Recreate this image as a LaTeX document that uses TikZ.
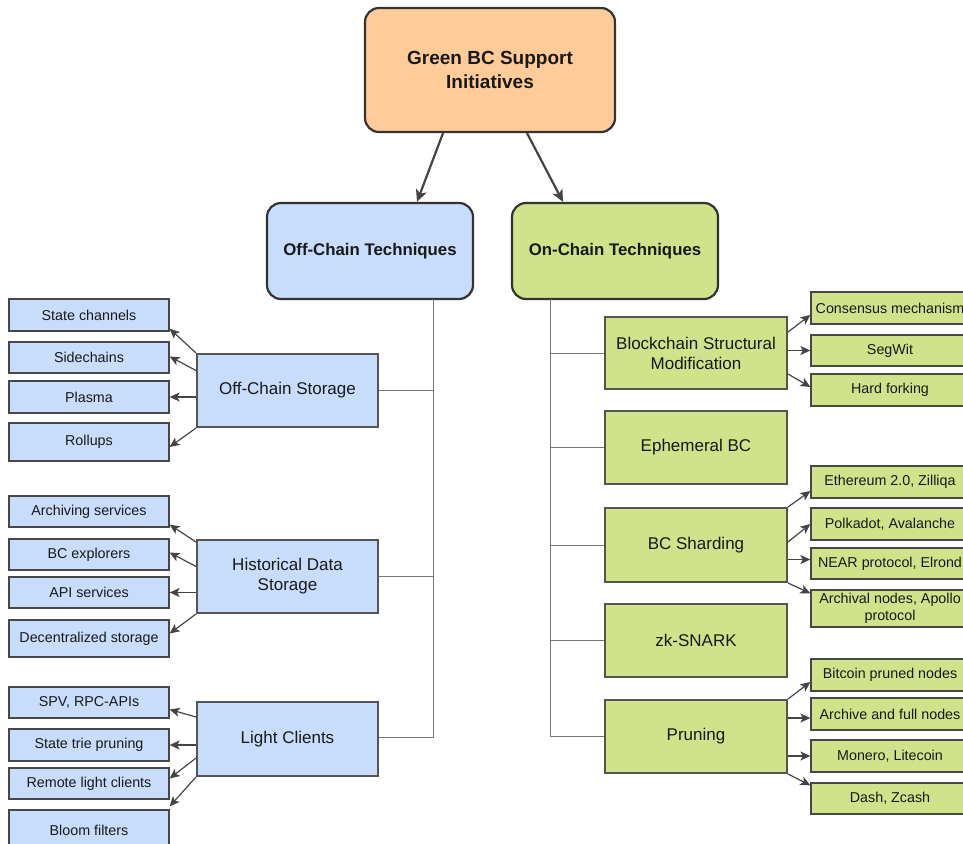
\documentclass[tikz,border=0pt]{standalone}
\usepackage{fontspec}
\setmainfont{Liberation Sans}
\usetikzlibrary{arrows.meta}
\definecolor{rootfill}{HTML}{FFCC99}
\definecolor{bluefill}{HTML}{C7DDFB}
\definecolor{greenfill}{HTML}{D0E28A}
\definecolor{edgegray}{HTML}{333333}
\definecolor{boxgray}{HTML}{555555}
\definecolor{treegray}{HTML}{777777}
\definecolor{arrgray}{HTML}{444444}
\begin{document}
\begin{tikzpicture}[x=1pt,y=-1pt,
  topbox/.style={draw=edgegray, line width=2.2pt, rounded corners=14pt, inner sep=0pt, align=center, text=black!90},
  midbox/.style={draw=boxgray, line width=2pt, inner sep=0pt, align=center, minimum width=182pt, text=black!90, font=\fontsize{17}{20}\selectfont},
  leafbox/.style={draw=edgegray!90, line width=1.3pt, inner sep=0pt, align=center, text=black!90, font=\fontsize{14.3}{17.5}\selectfont},
  lleaf/.style={leafbox, fill=bluefill, minimum width=160pt},
  rleaf/.style={leafbox, fill=greenfill, minimum width=158pt},
  treeline/.style={draw=treegray, line width=1pt},
  arr/.style={draw=arrgray, line width=1.2pt, -{Stealth[length=10pt,width=9pt,inset=2.5pt]}},
  bigarr/.style={draw=arrgray, line width=2.2pt, -{Stealth[length=12pt,width=11pt,inset=3pt]}}
]
\useasboundingbox (0,0) rectangle (963,843);

% top level
\node[topbox, fill=rootfill, minimum width=250pt, minimum height=124pt, font=\bfseries\fontsize{19}{24}\selectfont] (root) at (490,70) {Green BC Support\\Initiatives};
\node[topbox, fill=bluefill, minimum width=206pt, minimum height=96pt, font=\bfseries\fontsize{16.8}{20}\selectfont] (off) at (370,251) {Off-Chain Techniques};
\node[topbox, fill=greenfill, minimum width=206pt, minimum height=96pt, font=\bfseries\fontsize{16.8}{20}\selectfont] (on) at (615,251) {On-Chain Techniques};

\draw[bigarr] ([xshift=-47pt]root.south) -- ([xshift=47pt]off.north);
\draw[bigarr] ([xshift=37pt]root.south) -- ([xshift=-52pt]on.north);

% left middle boxes
\node[midbox, fill=bluefill, minimum width=181pt, minimum height=73pt] (osto) at (287.5,390.5) {Off-Chain Storage};
\node[midbox, fill=bluefill, minimum width=181pt, minimum height=73pt] (hist) at (287.5,576.5) {Historical Data\\Storage};
\node[midbox, fill=bluefill, minimum width=181pt, minimum height=74pt] (lc) at (287.5,739) {Light Clients};

% left tree
\coordinate (lt) at (433,299);
\draw[treeline] (lt) |- ([yshift=2pt]lc.east);
\draw[treeline] (osto.east) -- (osto.east -| lt);
\draw[treeline] (hist.east) -- (hist.east -| lt);

% left leaves
\node[lleaf, minimum height=32pt] (sc1) at (89,315) {State channels};
\node[lleaf, minimum height=31pt] (sc2) at (89,357.5) {Sidechains};
\node[lleaf, minimum height=32pt] (pl) at (89,397) {Plasma};
\node[lleaf, minimum height=38pt] (ro) at (89,442) {Rollups};
\node[lleaf, minimum height=31pt] (ar) at (89,511.5) {Archiving services};
\node[lleaf, minimum height=31pt] (bce) at (89,554.5) {BC explorers};
\node[lleaf, minimum height=31pt] (api) at (89,592.5) {API services};
\node[lleaf, minimum height=37pt] (dec) at (89,638.5) {Decentralized storage};
\node[lleaf, minimum height=31pt] (spv) at (89,702.5) {SPV, RPC-APIs};
\node[lleaf, minimum height=32pt] (st) at (89,745) {State trie pruning};
\node[lleaf, minimum height=31pt] (rl) at (89,783.5) {Remote light clients};
\node[lleaf, minimum height=40pt] (bl) at (89,830) {Bloom filters};

% left arrows
\draw[arr] (osto.north west) -- ([yshift=3pt]sc1.south east);
\draw[arr] ([yshift=20pt]osto.west) -- ([yshift=1pt]sc2.east);
\draw[arr] (pl.east -| osto.west) -- (pl.east);
\draw[arr] (osto.south west) -- ([yshift=-5pt]ro.east);

\draw[arr] ([yshift=-3pt]hist.north west) -- ([yshift=3pt]ar.south east);
\draw[arr] ([yshift=10pt]hist.west) -- ([yshift=2pt]bce.east);
\draw[arr] (api.east -| hist.west) -- (api.east);
\draw[arr] (hist.south west) -- ([yshift=5pt]dec.east);

\draw[arr] ([yshift=22pt]lc.west) -- ([yshift=-7pt]spv.east);
\draw[arr] (st.east -| lc.west) -- (st.east);
\draw[arr] ([yshift=-19pt]lc.west) -- ([yshift=5pt]rl.east);
\draw[arr] (lc.south west) -- ([yshift=3pt]bl.north east);

% right middle boxes
\node[midbox, fill=greenfill, minimum height=72pt] (bsm) at (696,353) {Blockchain Structural\\Modification};
\node[midbox, fill=greenfill, minimum height=73pt] (eph) at (696,447.5) {Ephemeral BC};
\node[midbox, fill=greenfill, minimum height=74pt] (sh) at (696,545) {BC Sharding};
\node[midbox, fill=greenfill, minimum height=73pt] (zk) at (696,640.5) {zk-SNARK};
\node[midbox, fill=greenfill, minimum height=73pt] (pr) at (696,736.5) {Pruning};

% right tree
\coordinate (rt) at (550,299);
\draw[treeline] (rt) |- (pr.west);
\draw[treeline] (bsm.west -| rt) -- (bsm.west);
\draw[treeline] (eph.west -| rt) -- (eph.west);
\draw[treeline] (sh.west -| rt) -- (sh.west);
\draw[treeline] (zk.west -| rt) -- (zk.west);

% right leaves
\node[rleaf, minimum height=32pt] (cm) at (890,308) {Consensus mechanism};
\node[rleaf, minimum height=31pt] (sw) at (890,350.5) {SegWit};
\node[rleaf, minimum height=32pt] (hf) at (890,390) {Hard forking};
\node[rleaf, minimum height=32pt] (eth) at (890,482) {Ethereum 2.0, Zilliqa};
\node[rleaf, minimum height=32pt] (pk) at (890,524) {Polkadot, Avalanche};
\node[rleaf, minimum height=31pt] (near) at (890,563.5) {NEAR protocol, Elrond};
\node[rleaf, minimum height=37pt] (arc) at (890,608.5) {Archival nodes, Apollo\\protocol};
\node[rleaf, minimum height=32pt] (btc) at (890,675) {Bitcoin pruned nodes};
\node[rleaf, minimum height=32pt] (arch) at (890,714) {Archive and full nodes};
\node[rleaf, minimum height=32pt] (mon) at (890,756) {Monero, Litecoin};
\node[rleaf, minimum height=31pt] (dash) at (890,798.5) {Dash, Zcash};

% right arrows
\draw[arr] ([yshift=21pt]bsm.east) -- ([yshift=-7pt]cm.west);
\draw[arr] (sw.west -| bsm.east) -- (sw.west);
\draw[arr] ([yshift=-21pt]bsm.east) -- ([yshift=3pt]hf.west);

\coordinate (nearpt) at ([yshift=4pt]near.west);
\draw[arr] (sh.north east) -- ([yshift=-9pt]eth.west);
\draw[arr] ([yshift=3pt]sh.east) -- (pk.west);
\draw[arr] (nearpt -| sh.east) -- (nearpt);
\draw[arr] (sh.south east) -- ([yshift=-4pt]arc.north west);

\coordinate (archpt) at ([yshift=-4pt]arch.west);
\draw[arr] (pr.north east) -- ([yshift=-7pt]btc.west);
\draw[arr] (archpt -| pr.east) -- (archpt);
\draw[arr] (mon.west -| pr.east) -- (mon.west);
\draw[arr] (pr.south east) -- ([yshift=-3pt]dash.north west);
\end{tikzpicture}
\end{document}
